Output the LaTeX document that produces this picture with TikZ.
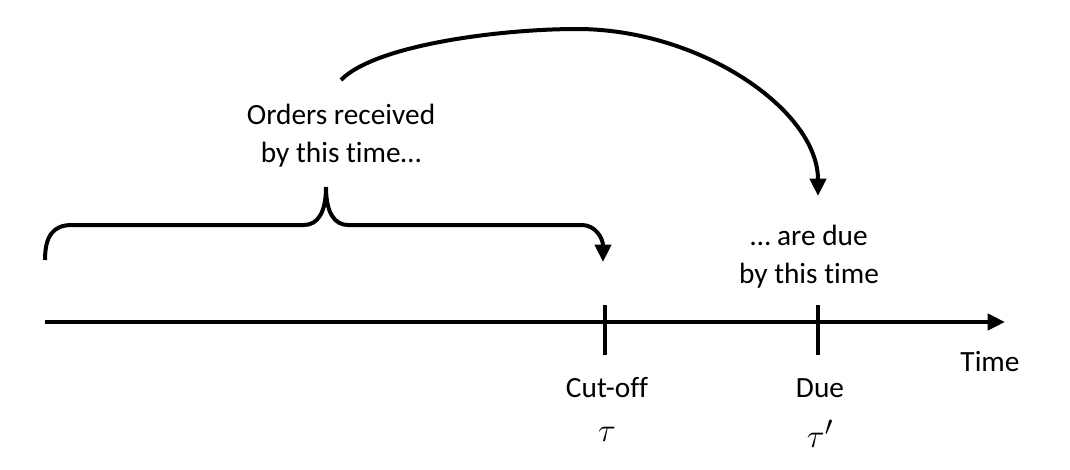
\documentclass[tikz,border=0pt]{standalone}
\usepackage{fontspec}
\setmainfont[Ligatures=NoCommon]{Carlito}
\usetikzlibrary{arrows.meta,positioning}

\begin{document}
\begin{tikzpicture}[x=0.75pt,y=-0.75pt,line width=3pt,
    >={Triangle[length=13pt,width=12pt]},
    lbl/.style={font=\fontsize{22}{28.5}\selectfont,align=center,inner sep=0pt},
    sym/.style={font=\fontsize{30}{30}\selectfont,inner sep=0pt}]
    \useasboundingbox (0,0) rectangle (1070,469);
    % time axis
    \coordinate (T0) at (45,322);
    \coordinate (T1) at (1005,322);
    \draw[->] (T0) -- (T1);
    \node[lbl] (time) at (990,361) {Time};
    % ticks
    \foreach \p/\x/\txt/\s in {cut/605/Cut-off/\tau,due/818/Due/\tau'} {
        \coordinate (\p) at (\x,322);
        \draw ([yshift=12.75pt]\p) -- ([yshift=-24.75pt]\p);
        \node[lbl] (\p lbl) at (\x+2,388) {\txt};
        \node[sym] (\p sym) at (\x+2,434) {$\s$};
    }
    \node[lbl] (orders) at (341,136) {Orders received\\by this time…};
    \node[lbl] (duetxt) at (809,257) {… are due\\by this time};
    % brace
    \coordinate (B0) at (45,260);
    \coordinate (Btip) at (326,187);
    \coordinate (B1) at (603,262);
    \draw[->] (B0) .. controls (45,236) and (53,225) .. (72,225) -- (304,225)
        .. controls (318,225) and (326,212) .. (Btip)
        .. controls (326,212) and (334,225) .. (348,225) -- (582,225)
        .. controls (595,225) and (603,238) .. (B1);
    % big arc
    \coordinate (A0) at (341,80);
    \coordinate (A1) at (818,196);
    \draw[->] (A0) .. controls (375,45) and (500,29) .. (577,29)
        .. controls (700,29) and (818,110) .. (A1);
\end{tikzpicture}
\end{document}
